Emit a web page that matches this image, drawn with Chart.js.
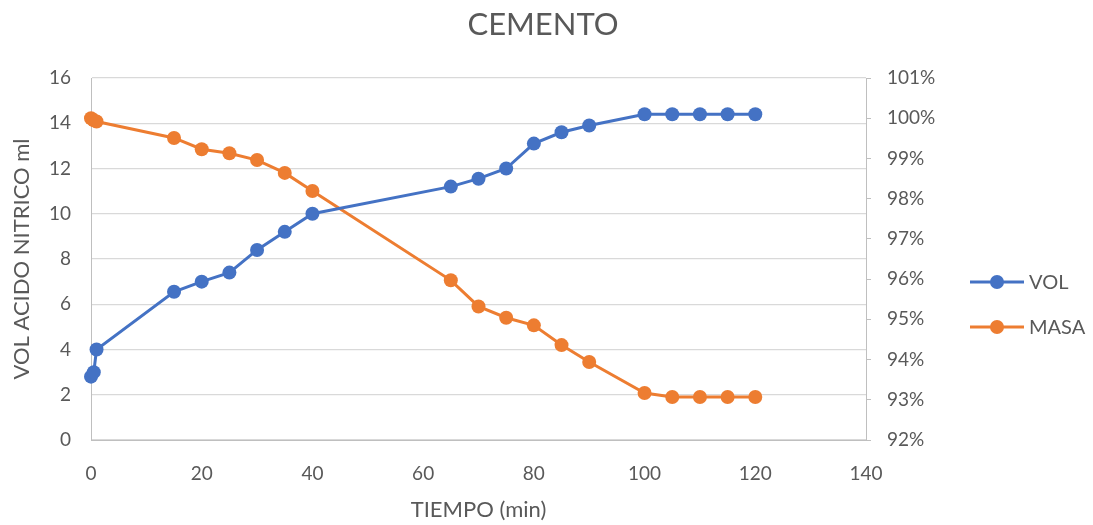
<!DOCTYPE html>
<html>
<head>
<meta charset="utf-8">
<script src="https://cdn.jsdelivr.net/npm/chart.js@4/dist/chart.umd.min.js"></script>
<style>
  html, body { margin: 0; padding: 0; background: #fff; }
  canvas { display: block; }
</style>
</head>
<body>
<canvas id="c" width="1093" height="525"></canvas>
<script>
// Time (min)
const tiempo = [0, 0.5, 1, 15, 20, 25, 30, 35, 40, 65, 70, 75, 80, 85, 90, 100, 105, 110, 115, 120];
// Nitric acid volume (ml)
const vol = [2.8, 3.0, 4.0, 6.55, 7.0, 7.4, 8.4, 9.2, 10.0, 11.2, 11.55, 12.0, 13.1, 13.6, 13.9, 14.4, 14.4, 14.4, 14.4, 14.4];
// Remaining mass fraction
const masa = [1.0, 0.9995, 0.9992, 0.9951, 0.9923, 0.9913, 0.9896, 0.9864, 0.9819, 0.9597, 0.9532, 0.9504, 0.9485, 0.9436, 0.9394, 0.9317, 0.9307, 0.9307, 0.9307, 0.9307];

const seriesNames = ['VOL', 'MASA'];
const chartTitle = 'CEMENTO';
const xTitle = 'TIEMPO (min)';
const yTitle = 'VOL ACIDO NITRICO ml';

const BLUE = '#4472C4';
const ORANGE = '#ED7D31';
const TEXT = '#595959';
const GRID = '#d9d9d9';
const FONT = 'Lato, "Open Sans", sans-serif';

const toPoints = (xs, ys) => xs.map((x, i) => ({ x: x, y: ys[i] }));

// Title and legend drawn on the canvas
const decorations = {
  id: 'decorations',
  afterDraw(chart) {
    const ctx = chart.ctx;
    ctx.save();
    ctx.fillStyle = TEXT;
    ctx.font = '31px ' + FONT;
    ctx.textAlign = 'center';
    ctx.textBaseline = 'middle';
    ctx.fillText(chartTitle, 543, 25);

    const items = [
      { name: seriesNames[0], color: BLUE, y: 282 },
      { name: seriesNames[1], color: ORANGE, y: 327 }
    ];
    items.forEach(it => {
      ctx.strokeStyle = it.color;
      ctx.lineWidth = 3;
      ctx.beginPath();
      ctx.moveTo(970, it.y);
      ctx.lineTo(1024, it.y);
      ctx.stroke();
      ctx.fillStyle = it.color;
      ctx.beginPath();
      ctx.arc(997, it.y, 7, 0, Math.PI * 2);
      ctx.fill();
      ctx.fillStyle = TEXT;
      ctx.font = '20px ' + FONT;
      ctx.textAlign = 'left';
      ctx.textBaseline = 'middle';
      ctx.fillText(it.name, 1029, it.y + 1);
    });
    ctx.restore();
  }
};

new Chart(document.getElementById('c'), {
  type: 'scatter',
  data: {
    datasets: [
      {
        label: seriesNames[0],
        data: toPoints(tiempo, vol),
        yAxisID: 'y',
        showLine: true,
        clip: false,
        borderColor: BLUE,
        backgroundColor: BLUE,
        borderWidth: 3,
        pointRadius: 7,
        pointHoverRadius: 7,
        pointBorderWidth: 0
      },
      {
        label: seriesNames[1],
        data: toPoints(tiempo, masa),
        yAxisID: 'y1',
        showLine: true,
        clip: false,
        borderColor: ORANGE,
        backgroundColor: ORANGE,
        borderWidth: 3,
        pointRadius: 7,
        pointHoverRadius: 7,
        pointBorderWidth: 0
      }
    ]
  },
  options: {
    responsive: false,
    animation: false,
    layout: { padding: { top: 78, right: 137, bottom: 0, left: 0 } },
    plugins: {
      legend: { display: false },
      title: { display: false },
      tooltip: { enabled: false }
    },
    scales: {
      x: {
        type: 'linear',
        min: 0, max: 140,
        ticks: { stepSize: 20, color: TEXT, font: { family: FONT, size: 19 }, padding: 22 },
        grid: { display: false, drawTicks: false },
        border: { display: true, color: '#bfbfbf', width: 1 },
        title: { display: true, text: xTitle, color: TEXT, font: { family: FONT, size: 22 }, padding: { top: 0, bottom: 2 } },
        afterFit(s) { s.height = 85; }
      },
      y: {
        position: 'left',
        min: 0, max: 16,
        ticks: { stepSize: 2, color: TEXT, font: { family: FONT, size: 19 }, padding: 20 },
        grid: { color: GRID, lineWidth: 1.3, drawTicks: false },
        border: { display: true, color: '#bfbfbf', width: 1 },
        title: { display: true, text: yTitle, color: TEXT, font: { family: FONT, size: 22 }, padding: { top: 9, bottom: 0 } },
        afterFit(s) { s.width = 91; }
      },
      y1: {
        position: 'right',
        min: 0.92, max: 1.01,
        ticks: {
          stepSize: 0.01,
          color: TEXT,
          font: { family: FONT, size: 19 },
          padding: 16,
          callback: v => Math.round(v * 100) + '%'
        },
        grid: { drawOnChartArea: false, drawTicks: true, tickLength: 5, color: '#bfbfbf' },
        border: { display: true, color: '#bfbfbf', width: 1 },
        afterFit(s) { s.width = 90; }
      }
    }
  },
  plugins: [decorations]
});
</script>
</body>
</html>
